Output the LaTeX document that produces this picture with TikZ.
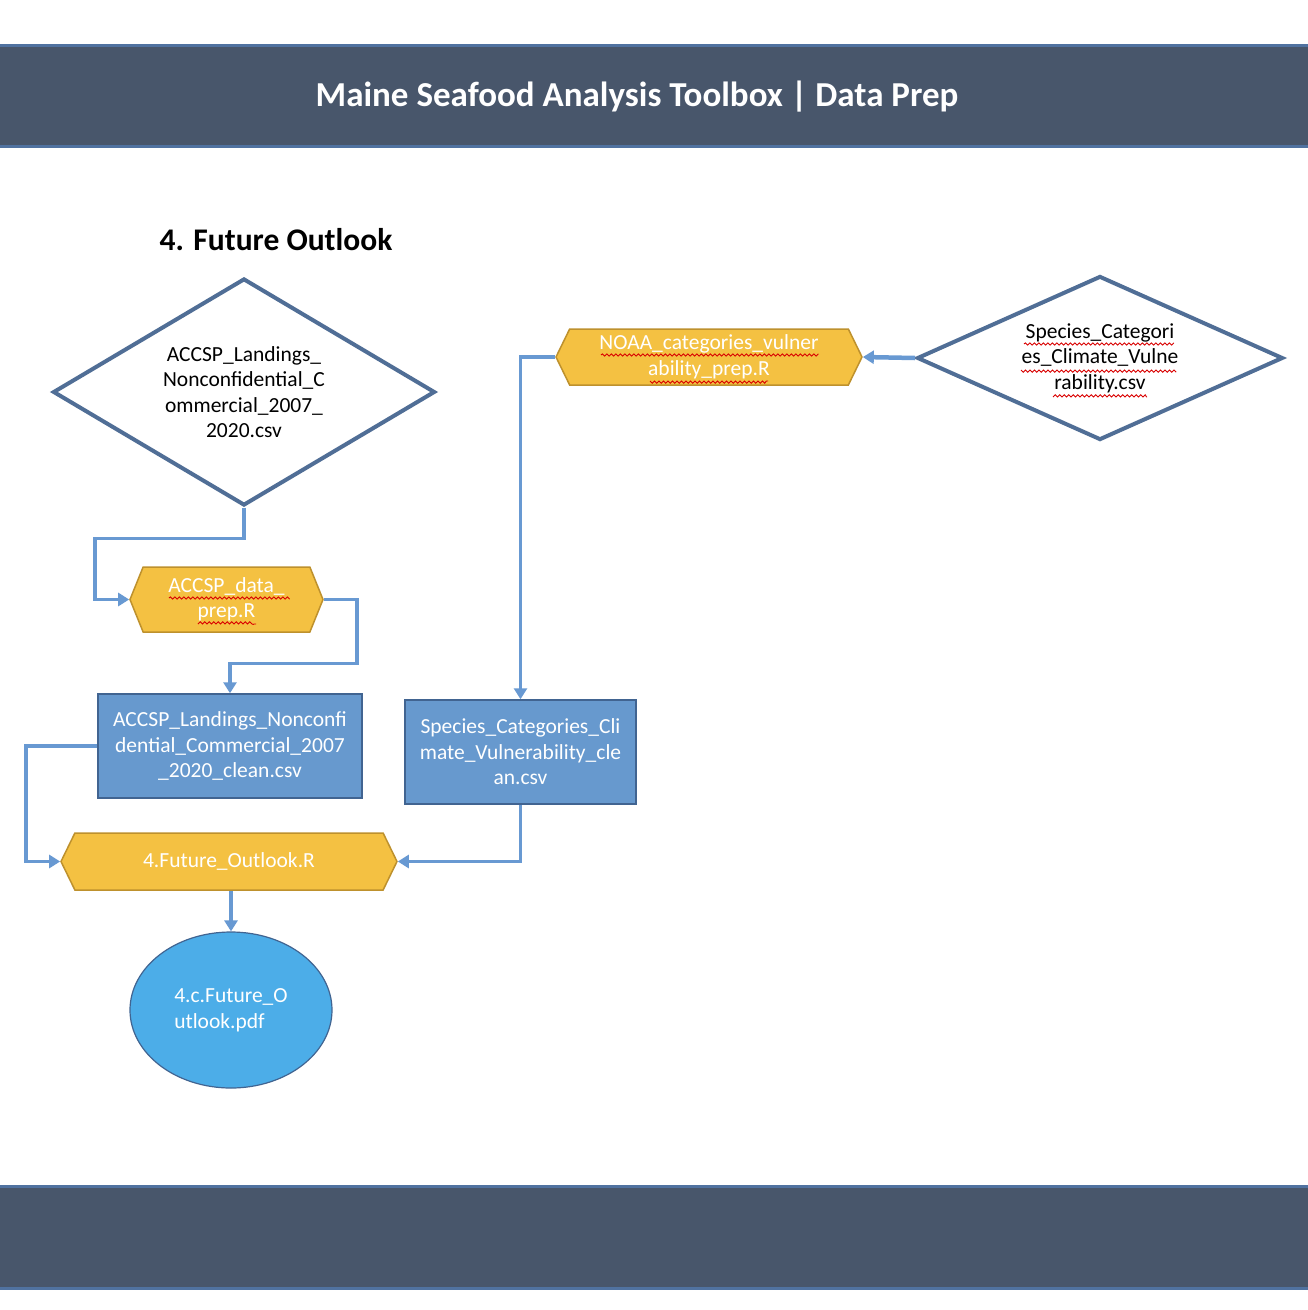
\documentclass[tikz,border=0pt]{standalone}
\usepackage{fontspec}
\setmainfont{Carlito}
\usetikzlibrary{shapes.geometric,shapes.symbols,arrows.meta,decorations.pathmorphing}
\definecolor{band}{RGB}{72,86,107}
\definecolor{bandline}{RGB}{80,114,160}
\definecolor{dia}{RGB}{80,110,150}
\definecolor{hexfill}{RGB}{244,193,66}
\definecolor{hexline}{RGB}{190,145,45}
\definecolor{boxfill}{RGB}{103,153,206}
\definecolor{boxline}{RGB}{65,100,145}
\definecolor{ellfill}{RGB}{76,173,232}
\definecolor{conn}{RGB}{104,153,210}
\tikzset{
  txt/.style={font=\fontsize{21.5}{25.5}\selectfont, align=center, inner sep=0pt},
  diabox/.style={shape=diamond, draw=dia, line width=4pt, fill=white, txt, minimum width=#1},
  hexbox/.style={shape=signal, signal to=west and east, signal pointer angle=128, draw=hexline, line width=1.5pt, fill=hexfill, text=white, txt},
  databox/.style={rectangle, draw=boxline, line width=1.5pt, fill=boxfill, text=white, txt},
  outbox/.style={ellipse, draw=boxline, line width=1.2pt, fill=ellfill, text=white, txt},
  link/.style={draw=conn, line width=3.5pt, -{Triangle[length=11pt,width=13pt]}},
  squig/.style={draw=red!85!black, line width=0.9pt, decorate, decoration={snake, amplitude=1.1pt, segment length=4.5pt}}
}
\begin{document}
\begin{tikzpicture}[x=1pt,y=-1pt]
\useasboundingbox (0,0) rectangle (1308,1310);
\fill[white] (0,0) rectangle (1308,1310);
% header and footer bands
\fill[band] (0,44) rectangle (1308,147);
\draw[bandline, line width=3pt] (0,45) -- (1308,45) (0,146) -- (1308,146);
\node[font=\bfseries\fontsize{35}{40}\selectfont, text=white, inner sep=0pt] (title) at (637,97) {Maine Seafood Analysis Toolbox | Data Prep};
\fill[band] (0,1185) rectangle (1308,1289);
\draw[bandline, line width=3pt] (0,1186) -- (1308,1186) (0,1288) -- (1308,1288);
\node[font=\bfseries\fontsize{31.5}{36}\selectfont, inner sep=0pt] (sec) at (276,240) {4. Future Outlook};
% nodes
\node[diabox=382pt, minimum height=227pt, aspect=1.68] (d1) at (244,392) {ACCSP\_Landings\_\\Nonconfidential\_C\\ommercial\_2007\_\\2020.csv};
\node[diabox=366pt, minimum height=164pt, aspect=2.2] (d2) at (1100,358) {Species\_Categori\\es\_Climate\_Vulne\\rability.csv};
\node[hexbox, minimum width=306pt, minimum height=56pt] (noaa) at (709,357) {NOAA\_categories\_vulner\\ability\_prep.R};
\node[hexbox, minimum width=193pt, minimum height=65pt, signal pointer angle=136] (prep) at (226.5,599.5) {ACCSP\_data\_\\prep.R};
\node[databox, minimum width=264pt, minimum height=104pt] (clean1) at (230,746) {ACCSP\_Landings\_Nonconfi\\dential\_Commercial\_2007\\\_2020\_clean.csv};
\node[databox, minimum width=231pt, minimum height=104pt] (clean2) at (520.5,752) {Species\_Categories\_Cli\\mate\_Vulnerability\_cle\\an.csv};
\node[hexbox, minimum width=336pt, minimum height=57pt] (fut) at (229,861.5) {4.Future\_Outlook.R};
\node[outbox, minimum width=202pt, minimum height=156pt, align=left] (pdf) at (231,1010) {4.c.Future\_O\\utlook.pdf};
% spell-check squiggles
\path[squig] (601,355) -- (818,355) (650,381) -- (768,381);
\path[squig] (169,598) -- (289,598) (198,624) -- (256,624);
\path[squig] (1024,344) -- (1172,344) (1021,370) -- (1178,370) (1053,397) -- (1147,397);
% connectors
\draw[link] (d1.south) -- ++(0,31) -| ([xshift=-34pt]prep.west) -- (prep.west);
\draw[link] (prep.east) -| ([xshift=33pt,yshift=-64pt]prep.east) -| (clean1.north);
\draw[link] (clean1.west) -| ([xshift=-34pt]fut.west) -- (fut.west);
\draw[link] (clean2.south) |- (fut.east);
\draw[link] (fut.south -| pdf.north) -- (pdf.north);
\draw[link, line width=4.5pt] (d2.west) -- (noaa.east);
\draw[link] (noaa.west) -| (clean2.north);
\end{tikzpicture}
\end{document}
